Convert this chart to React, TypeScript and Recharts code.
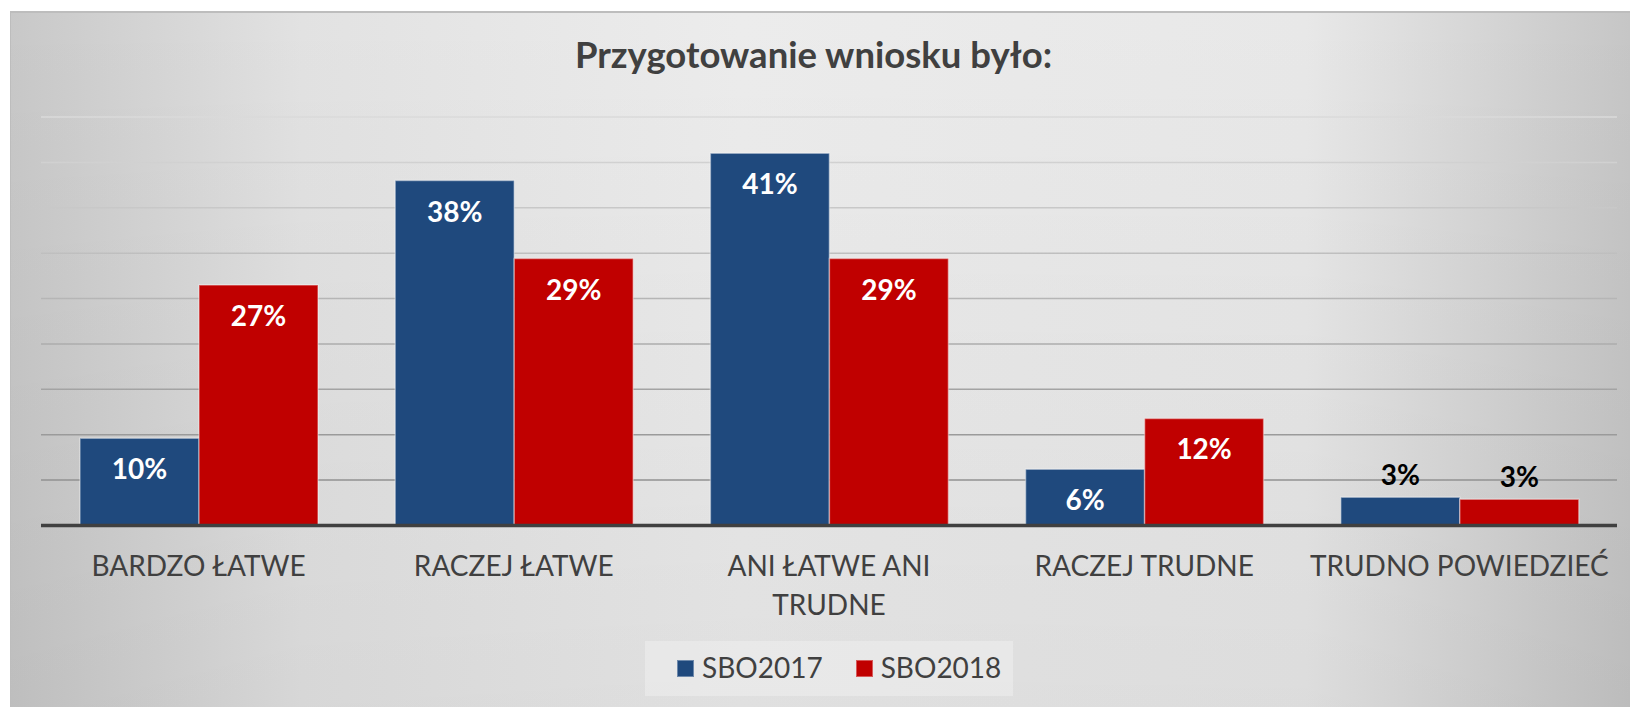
import React from "react";
import { BarChart, Bar, XAxis, YAxis, CartesianGrid, Legend, LabelList } from "recharts";

const categories = ["BARDZO ŁATWE", "RACZEJ ŁATWE", "ANI ŁATWE ANI TRUDNE", "RACZEJ TRUDNE", "TRUDNO POWIEDZIEĆ"];
const sbo2017 = [9.6, 38, 41, 6.2, 3.1];
const sbo2018 = [26.5, 29.4, 29.4, 11.8, 2.9];
const yTicks = [0, 5, 10, 15, 20, 25, 30, 35, 40, 45];

const data = categories.map((name, i) => ({ name, sbo2017: sbo2017[i], sbo2018: sbo2018[i] }));

const FONT = "Lato, 'Open Sans', sans-serif";
const TEXT = "#404040";

// wrap long category names onto two lines, like Excel does
function wrap(label: string, maxChars: number) {
  const lines: string[] = [];
  let cur = "";
  for (const w of label.split(" ")) {
    const next = cur ? cur + " " + w : w;
    if (next.length > maxChars && cur) {
      lines.push(cur);
      cur = w;
    } else cur = next;
  }
  if (cur) lines.push(cur);
  return lines;
}

const CategoryTick = ({ x, y, payload }: any) => {
  const lines = payload.value.length > 17 ? wrap(payload.value, 14) : [payload.value];
  return (
    <text x={x} y={y} textAnchor="middle" fill={TEXT} fontFamily={FONT} fontSize={28}>
      {lines.map((l, i) => (
        <tspan key={i} x={x} dy={i === 0 ? 50 : 39}>
          {l}
        </tspan>
      ))}
    </text>
  );
};

const ValueLabel = ({ x, y, width, height, value }: any) => {
  const inside = height > 40;
  return (
    <text
      x={x + width / 2}
      y={inside ? y + 41 : y - 12}
      textAnchor="middle"
      fill={inside ? "#ffffff" : "#000000"}
      fontFamily={FONT}
      fontWeight={700}
      fontSize={28}
    >
      {Math.round(value)}%
    </text>
  );
};

const LegendBox = ({ payload }: any) => (
  <div
    style={{
      width: 368,
      height: 55,
      background: "rgba(255,255,255,0.28)",
      display: "flex",
      alignItems: "center",
      paddingLeft: 32,
      boxSizing: "border-box",
      fontFamily: FONT,
      fontSize: 28,
      color: TEXT,
    }}
  >
    {(payload || []).map((p: any, i: number) => (
      <div key={i} style={{ display: "flex", alignItems: "center", marginRight: 33 }}>
        <span
          style={{
            width: 17,
            height: 17,
            background: p.color,
            boxShadow: "inset 0 0 0 1px rgba(255,255,255,0.35)",
            marginRight: 8,
            display: "inline-block",
          }}
        />
        <span style={{ lineHeight: 1, marginTop: -3 }}>{p.value}</span>
      </div>
    ))}
  </div>
);

export default function App() {
  return (
    <div
      style={{
        position: "absolute",
        left: 10,
        top: 11,
        width: 1620,
        height: 696,
        background:
          "linear-gradient(to bottom, rgba(0,0,0,0) 0%, rgba(0,0,0,0.05) 100%), linear-gradient(to right, #c8c8c8 0%, #e2e2e2 18%, #ececec 45%, #e8e8e8 80%, #c6c6c6 100%)",
        boxShadow: "inset 1px 2px 0 #bdbdbd",
        overflow: "hidden",
      }}
    >
      <div
        style={{
          position: "absolute",
          top: 24.5,
          left: 0,
          width: 1607,
          textAlign: "center",
          fontFamily: FONT,
          fontWeight: 700,
          fontSize: 36.5,
          lineHeight: 1,
          color: TEXT,
        }}
      >
        Przygotowanie wniosku było:
      </div>
      <BarChart
        width={1620}
        height={696}
        data={data}
        margin={{ top: 106, right: 13, left: 31, bottom: 121.5 }}
        barCategoryGap={39}
        barGap={0}
      >
        <defs>
          <linearGradient id="gridGrad" gradientUnits="userSpaceOnUse" x1="0" y1="106" x2="0" y2="515">
            <stop offset="0%" stopColor="#dadada" />
            <stop offset="100%" stopColor="#888888" />
          </linearGradient>
        </defs>
        <CartesianGrid vertical={false} stroke="url(#gridGrad)" strokeWidth={1.5} />
        <YAxis hide domain={[0, 45]} ticks={yTicks} />
        <Bar dataKey="sbo2017" name="SBO2017" fill="#1f497d" stroke="rgba(255,255,255,0.4)" strokeWidth={1.5} isAnimationActive={false}>
          <LabelList dataKey="sbo2017" content={ValueLabel} />
        </Bar>
        <Bar dataKey="sbo2018" name="SBO2018" fill="#c00000" stroke="rgba(255,255,255,0.4)" strokeWidth={1.5} isAnimationActive={false}>
          <LabelList dataKey="sbo2018" content={ValueLabel} />
        </Bar>
        <XAxis
          dataKey="name"
          height={60}
          tickSize={0}
          tickMargin={0}
          tickLine={false}
          axisLine={{ stroke: "#404040", strokeWidth: 3.5 }}
          tick={<CategoryTick />}
          interval={0}
        />
        <Legend
          layout="horizontal"
          verticalAlign="middle"
          align="center"
          content={<LegendBox />}
          wrapperStyle={{ top: 630, left: 635, width: 368, height: 55 }}
        />
      </BarChart>
    </div>
  );
}
